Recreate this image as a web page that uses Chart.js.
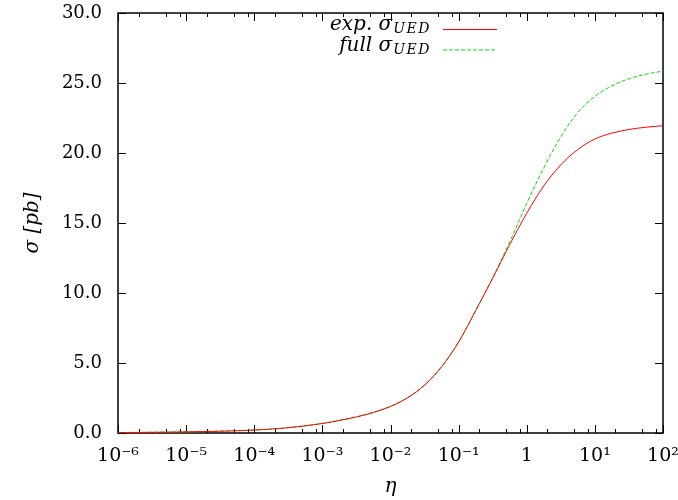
<!DOCTYPE html>
<html>
<head>
<meta charset="utf-8">
<script src="https://cdn.jsdelivr.net/npm/chart.js@4/dist/chart.umd.min.js"></script>
<style>
  html, body { margin: 0; padding: 0; background: #fff; }
</style>
</head>
<body>
<canvas id="chartSigma" width="678" height="500"></canvas>
<script>
// values
const etaValues = [1e-6, 3.16e-6, 1e-5, 3.16e-5, 1e-4, 3.16e-4, 1e-3, 1.78e-3, 3.16e-3, 5.62e-3, 1e-2, 1.78e-2, 3.16e-2, 5.62e-2, 0.1, 0.178, 0.316, 0.562, 1, 1.78, 3.16, 5.62, 10, 17.8, 31.6, 56.2, 100];
const sigmaExp  = [0.03, 0.05, 0.08, 0.13, 0.21, 0.38, 0.68, 0.9, 1.15, 1.47, 1.9, 2.52, 3.42, 4.73, 6.5, 8.75, 11.05, 13.45, 15.7, 17.65, 19.15, 20.25, 21.0, 21.42, 21.68, 21.84, 21.95];
const sigmaFull = [0.03, 0.05, 0.08, 0.13, 0.21, 0.38, 0.68, 0.9, 1.15, 1.47, 1.9, 2.52, 3.42, 4.73, 6.5, 8.75, 11.1, 13.65, 16.4, 18.95, 21.15, 22.9, 24.05, 24.8, 25.3, 25.63, 25.85];

const xTickValues = [1e-6, 1e-5, 1e-4, 1e-3, 1e-2, 1e-1, 1, 10, 100];
const xTickLabels = ['10⁻⁶', '10⁻⁵', '10⁻⁴', '10⁻³', '10⁻²', '10⁻¹', '1', '10¹', '10²'];
const xMinorFactors = [2, 5, 8];
const yTickValues = [0, 5, 10, 15, 20, 25, 30];

const seriesNames = ['exp. σ', 'full σ'];
const seriesSubs = ['UED', 'UED'];

const serif = "'DejaVu Serif', serif";

function toPoints(xs, ys) {
  return xs.map((x, i) => ({ x: x, y: ys[i] }));
}

/* frame and inward tick marks, gnuplot style */
const frameTicks = {
  id: 'frameTicks',
  beforeDatasetsDraw(chart) {
    const ctx = chart.ctx;
    const a = chart.chartArea;
    const xs = chart.scales.x;
    const ys = chart.scales.y;
    ctx.save();
    ctx.strokeStyle = '#000';
    ctx.lineWidth = 1;

    const major = 8, minor = 4;
    ctx.beginPath();
    xTickValues.forEach(v => {
      const px = Math.round(xs.getPixelForValue(v)) + 0.5;
      ctx.moveTo(px, a.bottom); ctx.lineTo(px, a.bottom - major);
      ctx.moveTo(px, a.top); ctx.lineTo(px, a.top + major);
    });
    xTickValues.slice(0, -1).forEach(d => {
      xMinorFactors.forEach(f => {
        const px = Math.round(xs.getPixelForValue(d * f)) + 0.5;
        ctx.moveTo(px, a.bottom); ctx.lineTo(px, a.bottom - minor);
        ctx.moveTo(px, a.top); ctx.lineTo(px, a.top + minor);
      });
    });
    yTickValues.forEach(v => {
      const py = Math.round(ys.getPixelForValue(v)) + 0.5;
      ctx.moveTo(a.left, py); ctx.lineTo(a.left + major, py);
      ctx.moveTo(a.right, py); ctx.lineTo(a.right - major, py);
    });
    ctx.stroke();

    ctx.lineWidth = 1.5;
    ctx.strokeRect(a.left, a.top, a.right - a.left, a.bottom - a.top);
    ctx.restore();
  }
};

/* key in the top middle: text first, sample line after */
const keyBox = {
  id: 'keyBox',
  afterDraw(chart) {
    const ctx = chart.ctx;
    ctx.save();
    chart.data.datasets.forEach((ds, i) => {
      const y = 29 + i * 20.5;
      const textRight = 431;
      ctx.fillStyle = '#000';
      ctx.textBaseline = 'alphabetic';
      ctx.font = 'italic 14px ' + serif;
      ctx.letterSpacing = '1.5px';
      const subW = ctx.measureText(seriesSubs[i]).width;
      ctx.textAlign = 'left';
      ctx.fillText(seriesSubs[i], textRight - subW, y + 4);
      ctx.letterSpacing = '0px';
      ctx.font = 'italic 20px ' + serif;
      ctx.textAlign = 'right';
      ctx.fillText(seriesNames[i], textRight - subW - 1, y + 1);

      ctx.strokeStyle = ds.borderColor;
      ctx.lineWidth = 1;
      ctx.setLineDash(ds.borderDash || []);
      ctx.beginPath();
      ctx.moveTo(443, y + 0.5);
      ctx.lineTo(497, y + 0.5);
      ctx.stroke();
      ctx.setLineDash([]);
    });
    ctx.restore();
  }
};

new Chart(document.getElementById('chartSigma'), {
  type: 'scatter',
  data: {
    datasets: [{
      label: seriesNames[0] + seriesSubs[0],
      data: toPoints(etaValues, sigmaExp),
      showLine: true,
      borderColor: '#ff0000',
      borderWidth: 1,
      pointRadius: 0,
      tension: 0.35
    }, {
      label: seriesNames[1] + seriesSubs[1],
      data: toPoints(etaValues, sigmaFull),
      showLine: true,
      borderColor: '#00e000',
      borderWidth: 1,
      borderDash: [4, 2],
      pointRadius: 0,
      tension: 0.35
    }]
  },
  options: {
    responsive: false,
    animation: false,
    layout: { padding: { top: 13, right: 15, left: 0, bottom: 0 } },
    plugins: {
      legend: { display: false },
      tooltip: { enabled: false }
    },
    scales: {
      x: {
        type: 'logarithmic',
        min: 1e-6,
        max: 100,
        afterBuildTicks: (scale) => {
          scale.ticks = xTickValues.map(v => ({ value: v }));
        },
        afterFit: (scale) => {
          scale.height = 67;
          scale.paddingLeft = 0;
          scale.paddingRight = 0;
        },
        grid: { display: false, drawTicks: false },
        border: { display: false },
        ticks: {
          autoSkip: false,
          maxRotation: 0,
          padding: 12,
          color: '#000',
          font: { family: serif, size: 19 },
          callback: (v) => {
            const i = xTickValues.findIndex(t => Math.abs(Math.log10(t) - Math.log10(v)) < 1e-6);
            return i >= 0 ? xTickLabels[i] : '';
          }
        },
        title: {
          display: true,
          text: 'η',
          color: '#000',
          padding: { top: 0, bottom: 1 },
          font: { family: serif, size: 20, style: 'italic' }
        }
      },
      y: {
        min: 0,
        max: 30,
        afterBuildTicks: (scale) => {
          scale.ticks = yTickValues.map(v => ({ value: v }));
        },
        afterFit: (scale) => {
          scale.width = 118;
          scale.paddingTop = 0;
          scale.paddingBottom = 0;
        },
        grid: { display: false, drawTicks: false },
        border: { display: false },
        ticks: {
          padding: 16,
          color: '#000',
          font: { family: serif, size: 18 },
          callback: (v) => Number(v).toFixed(1)
        },
        title: {
          display: true,
          text: 'σ [pb]',
          color: '#000',
          padding: { top: 21, bottom: 0 },
          font: { family: serif, size: 20, style: 'italic' }
        }
      }
    }
  },
  plugins: [frameTicks, keyBox]
});
</script>
</body>
</html>
